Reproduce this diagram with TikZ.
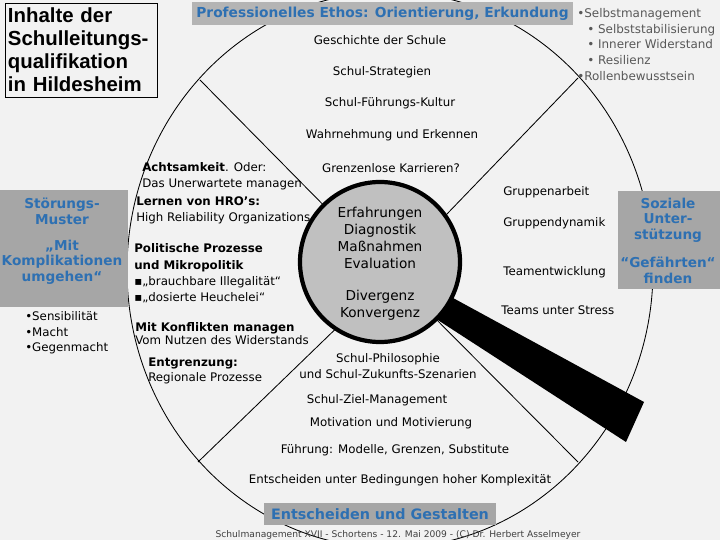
\documentclass[tikz,border=0pt]{standalone}
\usepackage{fontspec}
\setmainfont{DejaVu Sans}
\newfontfamily\arialfont{Liberation Sans}
\usepackage{xcolor}
\usepackage{tikz}
\usetikzlibrary{positioning}

\definecolor{paper}{RGB}{242,242,242}
\definecolor{ethosblue}{RGB}{46,112,178}
\definecolor{boxgray}{RGB}{166,166,166}
\definecolor{bargray}{RGB}{180,180,180}
\definecolor{lensgray}{RGB}{192,192,192}
\definecolor{listgray}{RGB}{88,88,88}

\begin{document}
\begin{tikzpicture}[
  txt/.style={font=\fontsize{8.4}{11.4}\selectfont, inner sep=0pt},
  lefttxt/.style={txt, anchor=west, align=left},
  midtxt/.style={txt, align=center},
  bluehead/.style={font=\fontsize{9.7}{11}\selectfont\bfseries,
                   text=ethosblue, align=center, inner sep=0pt},
  graybox/.style={fill=boxgray, inner sep=0pt},
  rim/.style={line width=0.6pt},
  lens/.style={circle, draw=black, line width=3pt, fill=lensgray,
               minimum size=4cm, inner sep=0pt},
  lenstxt/.style={font=\fontsize{9.7}{11.9}\selectfont, align=center, inner sep=0pt},
]
\useasboundingbox (0,0) rectangle (18,13.5);
\fill[paper] (0,0) rectangle (18,13.5);
\clip (0,0) rectangle (18,13.5);

\draw[rim] (9.75,6.75) ellipse [x radius=6.575, y radius=6.95];

\coordinate (tl) at (5.0,11.5);
\coordinate (tr) at (14.45,11.55);
\coordinate (bl) at (4.95,1.95);
\coordinate (br) at (14.45,1.95);
\coordinate (tlin) at (8.75,7.7);
\coordinate (trin) at (10.5,7.45);
\coordinate (blin) at (8.75,5.625);
\coordinate (brin) at (10.375,6.05);

\draw[rim] (tl) -- (tlin);
\draw[rim] (tr) -- (trin);
\draw[rim] (bl) -- (blin);
\draw[rim] (br) -- (brin);

\fill[black] (10.5,6.5) -- (16.1,3.45) -- (15.65,2.45) -- (10.25,5.95) -- cycle;
\node[lens] (lens) at (9.5,6.95) {};
\node[lenstxt] (erfahr) at (9.5,7.55) {Erfahrungen\\Diagnostik\\Maßnahmen\\Evaluation};
\node[lenstxt] (diverg) at (9.5,5.875) {Divergenz\\Konvergenz};

\node[draw=black, line width=0.6pt, minimum width=3.8cm, minimum height=2.35cm,
      text width=3.65cm, inner sep=0.075cm, align=left,
      font=\arialfont\fontsize{14.5}{16.4}\selectfont\bfseries]
  (inhalt) at (2.025,12.25) {Inhalte der\\Schulleitungs-\\qualifikation\\in Hildesheim};

\node[fill=bargray, minimum width=9.525cm, minimum height=0.575cm, inner sep=0pt,
      font=\fontsize{9.8}{11}\selectfont\bfseries, text=ethosblue]
  (ethos) at (9.5625,13.1625) {Professionelles Ethos: Orientierung, Erkundung};

\node[lefttxt, text=listgray, font=\fontsize{8.5}{11.2}\selectfont]
  (selbst) at (14.425,12.3875) {•Selbstmanagement\\
  \hspace{0.25cm}• Selbststabilisierung\\
  \hspace{0.25cm}• Innerer Widerstand\\
  \hspace{0.25cm}• Resilienz\\
  •Rollenbewusstsein};

\node[midtxt] (gesch)  at (9.5,12.5)    {Geschichte der Schule};
\node[midtxt] (strat)  at (9.55,11.7)   {Schul-Strategien};
\node[midtxt] (kultur) at (9.75,10.925) {Schul-Führungs-Kultur};
\node[midtxt] (wahr)   at (9.8,10.125)  {Wahrnehmung und Erkennen};
\node[midtxt] (grenz)  at (9.775,9.3)   {Grenzenlose Karrieren?};

\node[lefttxt] (acht) at (3.55,9.1)
  {\textbf{Achtsamkeit}. Oder:\\Das Unerwartete managen};
\node[lefttxt] (hro) at (3.4,8.25)
  {\textbf{Lernen von HRO's:}\\High Reliability Organizations};
\node[lefttxt, font=\fontsize{8.4}{11.6}\selectfont] (polit) at (3.35,6.6625)
  {\textbf{Politische Prozesse}\\\textbf{und Mikropolitik}\\▪„brauchbare Illegalität“\\▪„dosierte Heuchelei“};
\node[lefttxt, font=\fontsize{8.4}{9.6}\selectfont] (konflikt) at (3.375,5.1625)
  {\textbf{Mit Konflikten managen}\\Vom Nutzen des Widerstands};
\node[lefttxt, font=\fontsize{8.4}{10.7}\selectfont] (entgr) at (3.7,4.2375)
  {\textbf{Entgrenzung:}\\Regionale Prozesse};

\fill[boxgray] (0,5.825) rectangle (3.2,8.75);
\node[bluehead] (stoer) at (1.55,8.2125) {Störungs-\\Muster};
\node[bluehead] (kompl) at (1.55,6.95) {„Mit\\Komplikationen\\umgehen“};
\node[lefttxt, font=\fontsize{8.4}{11}\selectfont] (macht) at (0.625,5.175)
  {•Sensibilität\\•Macht\\•Gegenmacht};

\node[lefttxt] (garb)   at (12.575,8.7)   {Gruppenarbeit};
\node[lefttxt] (gdyn)   at (12.575,7.925) {Gruppendynamik};
\node[lefttxt] (tentw)  at (12.575,6.7)   {Teamentwicklung};
\node[lefttxt] (tstress) at (12.525,5.75) {Teams unter Stress};

\fill[boxgray] (15.45,6.275) rectangle (18,8.725);
\node[bluehead] (sozial) at (16.7,8.0) {Soziale\\Unter-\\stützung};
\node[bluehead] (gefaehrt) at (16.7,6.74) {“Gefährten“\\finden};

\node[midtxt] (philo) at (9.7,4.35) {Schul-Philosophie\\und Schul-Zukunfts-Szenarien};
\node[midtxt] (ziel)  at (9.425,3.5)  {Schul-Ziel-Management};
\node[midtxt] (motiv) at (9.775,2.925) {Motivation und Motivierung};
\node[midtxt] (fuehr) at (9.875,2.25) {Führung: Modelle, Grenzen, Substitute};
\node[midtxt] (entsch) at (10.0,1.5)  {Entscheiden unter Bedingungen hoher Komplexität};

\node[graybox, minimum width=5.8cm, minimum height=0.55cm,
      font=\fontsize{10.2}{12}\selectfont\bfseries, text=ethosblue]
  (gestalt) at (9.5,0.65) {Entscheiden und Gestalten};
\node[txt, font=\fontsize{6.5}{7.5}\selectfont, text=black!75] (fuss) at (9.95,0.125)
  {Schulmanagement XVII - Schortens - 12. Mai 2009 - (C) Dr. Herbert Asselmeyer};
\end{tikzpicture}
\end{document}
